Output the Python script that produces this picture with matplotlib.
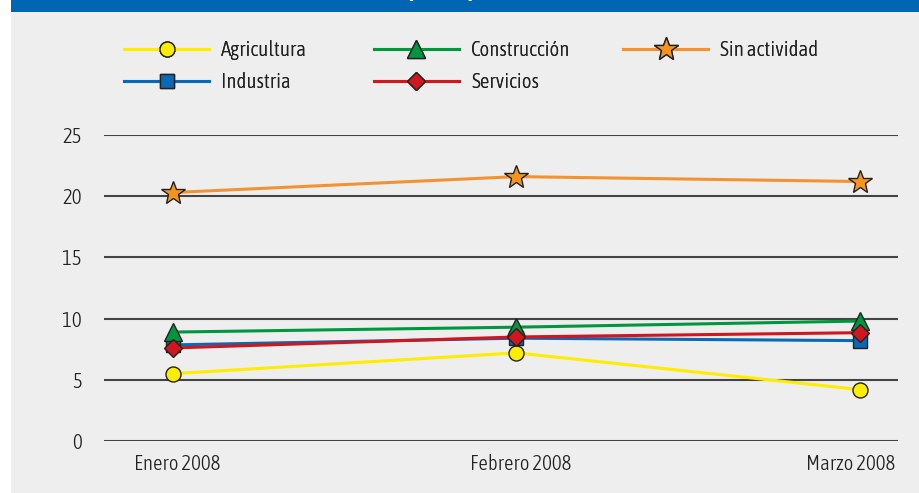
import matplotlib.pyplot as plt
from matplotlib.patches import Rectangle
from matplotlib.transforms import ScaledTranslation
from matplotlib import font_manager

# data
meses = ["Enero 2008", "Febrero 2008", "Marzo 2008"]
agricultura = [5.5, 7.2, 4.2]
industria = [7.85, 8.4, 8.2]
construccion = [8.9, 9.3, 9.8]
servicios = [7.6, 8.5, 8.85]
sin_actividad = [20.3, 21.6, 21.2]
yticks = [0, 5, 10, 15, 20, 25]

names = {f.name for f in font_manager.fontManager.ttflist}
fam = "DejaVu Sans"
for cand in ["Asap Condensed", "PT Sans Narrow", "Archivo Narrow"]:
    if cand in names:
        fam = cand
        break
plt.rcParams['font.family'] = [fam, 'DejaVu Sans']
plt.rcParams['font.weight'] = 300 if fam != "DejaVu Sans" else "normal"

W, H = 920, 493
FS = 15  # pt

fig = plt.figure(figsize=(W/100, H/100), dpi=100)
fig.patch.set_facecolor("white")
# gray panel and blue top bar
fig.patches.append(Rectangle((11/W, 0), 1, 1, transform=fig.transFigure,
                             facecolor="#eeeeee", edgecolor="none", zorder=-2))
fig.patches.append(Rectangle((11/W, 1 - 12/H), 1, 12/H, transform=fig.transFigure,
                             facecolor="#0066b3", edgecolor="none", zorder=-1))
fig.text(0.505, 1 + 4/H, "Tasa de desocupación por rama de actividad", color="white",
         ha="center", va="baseline", fontsize=16, fontweight="bold")

ax = fig.add_axes([104/W, 1 - 441/H, (898-104)/W, (441-135)/H])
ax.set_facecolor("none")
x = list(range(len(meses)))

edge = "#222222"
lines = {}
lines["Agricultura"] = ax.plot(x, agricultura, color="#ffed00", lw=2.2, marker="o", ms=10.8,
                               mfc="#ffed00", mec=edge, mew=1, zorder=3)[0]
lines["Industria"] = ax.plot(x, industria, color="#0a68b4", lw=2.2, marker="s", ms=10,
                             mfc="#0a68b4", mec=edge, mew=1, zorder=3)[0]
lines["Construcción"] = ax.plot(x, construccion, color="#009640", lw=2.2, marker="^", ms=13,
                                mfc="#009640", mec=edge, mew=1, zorder=3)[0]
lines["Servicios"] = ax.plot(x, servicios, color="#d0161e", lw=2.2, marker="D", ms=8.7,
                             mfc="#d0161e", mec=edge, mew=1, zorder=4)[0]
lines["Sin actividad"] = ax.plot(x, sin_actividad, color="#f39233", lw=2.2, marker="*", ms=18,
                                 mfc="#f7941d", mec=edge, mew=1, zorder=3)[0]

ax.set_xlim(-0.2, 2.11)
ax.set_ylim(0, 25)
ax.set_yticks(yticks)
ax.set_xticks(x)
ax.set_xticklabels(meses)
ax.grid(axis="y", color="#444444", lw=1.5)
ax.set_axisbelow(True)
for s in ax.spines.values():
    s.set_visible(False)
ax.tick_params(length=0, labelsize=FS, colors="#222222")
ax.tick_params(axis="x", pad=9)
ax.tick_params(axis="y", pad=16)

# small horizontal nudges of the month labels, as in the reference
for lbl, dx in zip(ax.get_xticklabels(), [5, 4, -10]):
    lbl.set_transform(lbl.get_transform() + ScaledTranslation(dx/100, 0, fig.dpi_scale_trans))

# legend: one entry per box, placed like the reference (handle start x, row center y)
fpx = FS * 100 / 72
spots = {"Agricultura": (124, 50), "Construcción": (374, 50), "Sin actividad": (623, 50),
         "Industria": (124, 82), "Servicios": (374, 82)}
for lab, (px, py) in spots.items():
    lg = fig.legend([lines[lab]], [lab], loc="center left",
                    bbox_to_anchor=(px/W, 1 - py/H), frameon=False, fontsize=FS,
                    handlelength=85/fpx, handletextpad=12/fpx, borderpad=0,
                    borderaxespad=0)
    lg.get_texts()[0].set_color("#222222")
    fig.add_artist(lg)

plt.savefig("out.png", dpi=100, facecolor=fig.get_facecolor())
